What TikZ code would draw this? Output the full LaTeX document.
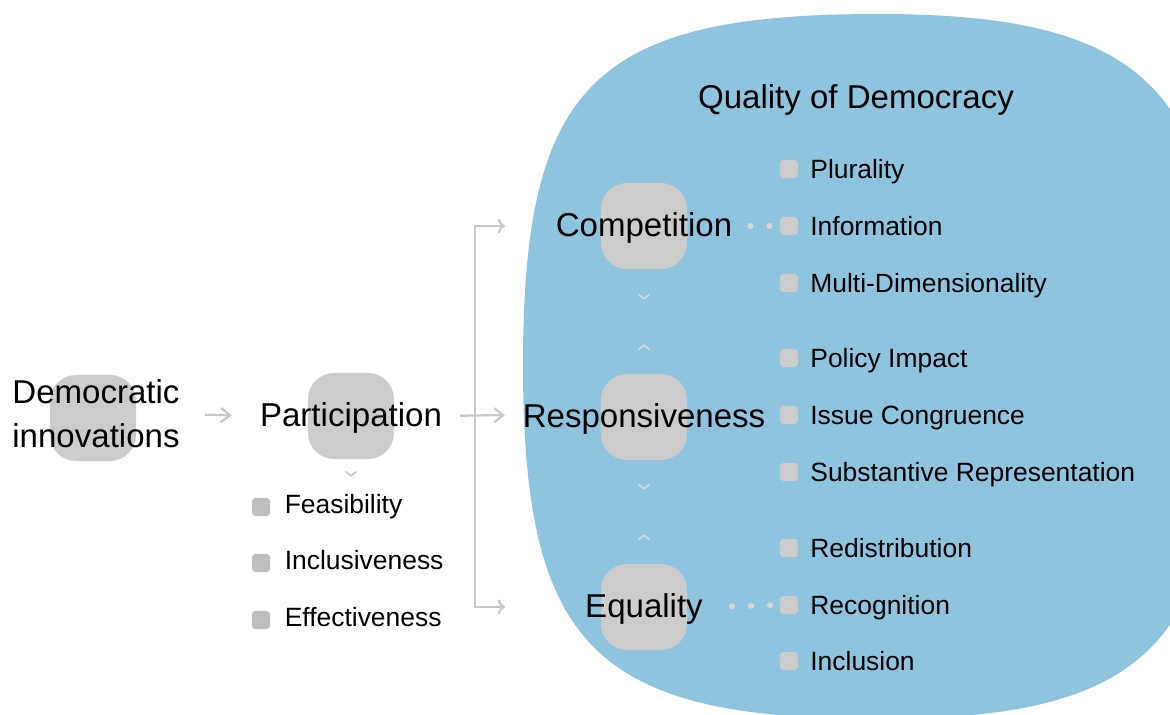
\documentclass[tikz,border=0pt]{standalone}
\usepackage{fontspec}
\setmainfont{Liberation Sans}
\usetikzlibrary{arrows.meta,positioning}

\definecolor{qodblue}{HTML}{8EC4DE}
\definecolor{hubgrey}{HTML}{CCCCCC}
\definecolor{bulletgrey}{HTML}{BEBEBE}
\definecolor{linkgrey}{HTML}{C8C8C8}
\definecolor{dotgrey}{HTML}{D8D8D8}

\newcommand{\hubfont}{\fontsize{23.5}{31.3}\selectfont}
\newcommand{\itemfont}{\fontsize{18.8}{22}\selectfont}

\tikzset{
  hubbox/.style={fill=hubgrey, rounded corners=0.65cm, minimum width=2.15cm, minimum height=2.15cm, inner sep=0pt},
  hubtext/.style={font=\hubfont, inner sep=0pt, text height=17.9pt, text depth=3.2pt},
  bulletbox/.style={fill=#1, rounded corners=0.1cm, minimum size=0.46cm, inner sep=0pt},
  itemtext/.style={font=\itemfont, inner sep=0pt, text height=13.5pt, text depth=4.7pt},
  qoditem/.style={itemtext, yshift=-0.075cm},
  flow/.style={draw=linkgrey, line width=1.6pt, -{Straight Barb[length=6.4pt,width=10pt]}},
  chevron/.style={draw=#1, line width=1.2pt, line cap=round, line join=round},
  dotlink/.style={draw=dotgrey, line width=4.3pt, line cap=round, dash pattern=on 0pt off 13.5pt}
}

\begin{document}
\begin{tikzpicture}[x=0.025cm, y=-0.025cm]
  \useasboundingbox (0,0) rectangle (1170,715);

  % Quality of Democracy area
  \begin{scope}
    \clip (0,0) rectangle (1170,715);
    \fill[qodblue] (523,365) .. controls (523,84) and (594,14) .. (878,14)
      .. controls (1147,14) and (1223,91) .. (1223,365)
      .. controls (1223,645) and (1147,719) .. (878,719)
      .. controls (594,719) and (523,646) .. (523,365) -- cycle;
  \end{scope}
  \node[hubtext] (qod) at (856,98) {Quality of Democracy};

  % Democratic innovations
  \node[hubbox] (innobox) at (93,418) {};
  \node[font=\hubfont, align=left, inner sep=0pt] (inno) at (96,414) {Democratic\\innovations};

  % Participation and its criteria
  \node[hubbox] (partbox) at (351,416) {};
  \node[hubtext] (part) at (partbox) {Participation};
  \draw[chevron=linkgrey] ([shift={(-5,12.5)}]partbox.south) -- ++(5,4) -- ++(5,-4);
  \node[bulletbox=bulletgrey] (feas) at (261,507) {};
  \node[itemtext, right=0.35cm of feas] (feaslbl) {Feasibility};
  \node[bulletbox=bulletgrey] (incl) at (261,563) {};
  \node[itemtext, right=0.35cm of incl] (incllbl) {Inclusiveness};
  \node[bulletbox=bulletgrey] (effe) at (261,620) {};
  \node[itemtext, right=0.35cm of effe] (effelbl) {Effectiveness};

  % the three dimensions
  \node[hubbox] (compbox) at (644,226) {};
  \node[hubtext] (comp) at (compbox) {Competition};
  \node[hubbox] (respbox) at (644,417) {};
  \node[hubtext] (resp) at (respbox) {Responsiveness};
  \node[hubbox] (equbox) at (644,607) {};
  \node[hubtext] (equ) at (equbox) {Equality};

  \draw[chevron=dotgrey] ([shift={(-5,25.5)}]compbox.south) -- ++(5,4) -- ++(5,-4);
  \draw[chevron=dotgrey] ([shift={(-5,-24.5)}]respbox.north) -- ++(5,-4) -- ++(5,4);
  \draw[chevron=dotgrey] ([shift={(-5,24.5)}]respbox.south) -- ++(5,4) -- ++(5,-4);
  \draw[chevron=dotgrey] ([shift={(-5,-24.5)}]equbox.north) -- ++(5,-4) -- ++(5,4);

  % Competition
  \node[bulletbox=hubgrey] (plur) at (789,169) {};
  \node[qoditem, right=0.29cm of plur] (plurlbl) {Plurality};
  \node[bulletbox=hubgrey] (info) at (789,226) {};
  \node[qoditem, right=0.29cm of info] (infolbl) {Information};
  \node[bulletbox=hubgrey] (multi) at (789,283) {};
  \node[qoditem, right=0.29cm of multi] (multilbl) {Multi-Dimensionality};

  % Responsiveness
  \node[bulletbox=hubgrey] (pol) at (789,358) {};
  \node[qoditem, right=0.29cm of pol] (pollbl) {Policy Impact};
  \node[bulletbox=hubgrey] (issue) at (789,415) {};
  \node[qoditem, right=0.29cm of issue] (issuelbl) {Issue Congruence};
  \node[bulletbox=hubgrey] (subst) at (789,472) {};
  \node[qoditem, right=0.29cm of subst] (substlbl) {Substantive Representation};

  % Equality
  \node[bulletbox=hubgrey] (redis) at (789,548) {};
  \node[qoditem, right=0.29cm of redis] (redislbl) {Redistribution};
  \node[bulletbox=hubgrey] (recog) at (789,605) {};
  \node[qoditem, right=0.29cm of recog] (recoglbl) {Recognition};
  \node[bulletbox=hubgrey] (inclu) at (789,661) {};
  \node[qoditem, right=0.29cm of inclu] (inclulbl) {Inclusion};

  \draw[dotlink, shorten <=0.45cm, shorten >=0.25cm] (comp.east) -- (info.west);
  \draw[dotlink, shorten <=0.725cm, shorten >=0.22cm] (equ.east) -- (recog.west);

  % arrows
  \coordinate (fork) at (475,415);
  \coordinate (gate) at (505,415);
  \draw[flow, shorten <=0.625cm, shorten >=0.7cm] (inno.east) -- (part.west);
  \draw[flow, shorten <=0.45cm] (part.east) -- (gate);
  \draw[flow, <->] (gate |- comp) -- (fork |- comp) -- (fork |- equ) -- (gate |- equ);
\end{tikzpicture}
\end{document}
